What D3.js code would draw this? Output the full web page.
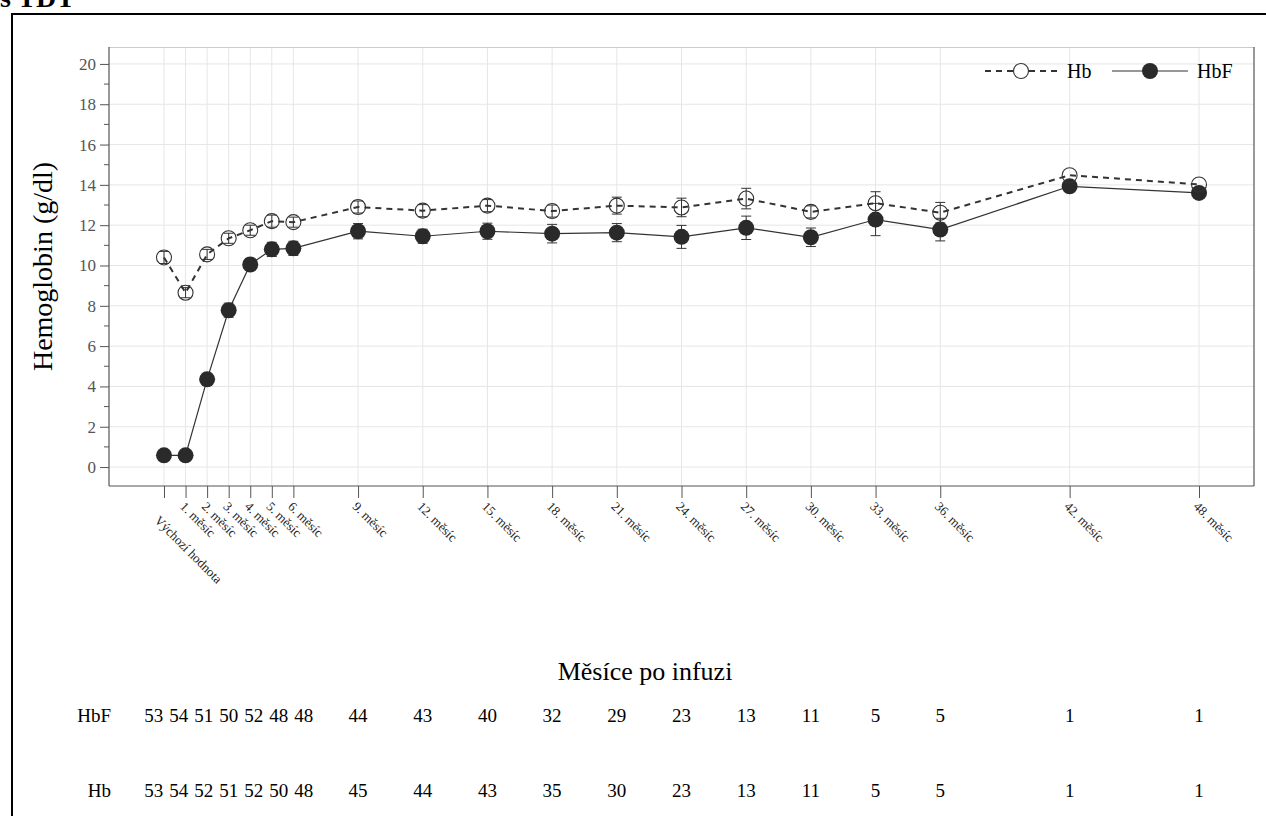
<!DOCTYPE html>
<html>
<head>
<meta charset="utf-8">
<script src="https://cdn.jsdelivr.net/npm/d3@7/dist/d3.min.js"></script>
<style>
  html, body { margin: 0; padding: 0; background: #fff; }
  svg { display: block; font-family: "Liberation Serif", "Times New Roman", serif; }
</style>
</head>
<body>
<svg id="chart" width="1266" height="816"></svg>
<script>
// ---- data ----
const months = [0, 1, 2, 3, 4, 5, 6, 9, 12, 15, 18, 21, 24, 27, 30, 33, 36, 42, 48];
const monthLabels = ["Výchozí hodnota", "1. měsíc", "2. měsíc", "3. měsíc", "4. měsíc", "5. měsíc", "6. měsíc",
  "9. měsíc", "12. měsíc", "15. měsíc", "18. měsíc", "21. měsíc", "24. měsíc", "27. měsíc", "30. měsíc",
  "33. měsíc", "36. měsíc", "42. měsíc", "48. měsíc"];
const hbMean  = [10.4, 8.65, 10.55, 11.35, 11.75, 12.2, 12.15, 12.9, 12.72, 12.97, 12.7, 12.97, 12.88, 13.32, 12.66, 13.09, 12.62, 14.48, 14.02];
const hbErr   = [0.3, 0.25, 0.25, 0.25, 0.25, 0.3, 0.25, 0.3, 0.3, 0.3, 0.3, 0.42, 0.46, 0.51, 0.3, 0.57, 0.51, 0, 0];
const hbfMean = [0.58, 0.58, 4.35, 7.78, 10.05, 10.8, 10.85, 11.7, 11.45, 11.7, 11.58, 11.63, 11.42, 11.87, 11.4, 12.28, 11.78, 13.93, 13.6];
const hbfErr  = [0.15, 0.15, 0.3, 0.35, 0.3, 0.35, 0.35, 0.38, 0.35, 0.4, 0.46, 0.45, 0.57, 0.58, 0.46, 0.8, 0.56, 0, 0];
const nHbF = [53, 54, 51, 50, 52, 48, 48, 44, 43, 40, 32, 29, 23, 13, 11, 5, 5, 1, 1];
const nHb  = [53, 54, 52, 51, 52, 50, 48, 45, 44, 43, 35, 30, 23, 13, 11, 5, 5, 1, 1];
const yTicks = [0, 2, 4, 6, 8, 10, 12, 14, 16, 18, 20];
const yMinorTicks = [1, 3, 5, 7, 9, 11, 13, 15, 17, 19];
const seriesNames = ["Hb", "HbF"];
const titleFragment = "s TDT";
const yTitle = "Hemoglobin (g/dl)";
const xTitle = "Měsíce po infuzi";

// ---- layout ----
const svg = d3.select("#chart");
const L = 109, R = 1254, T = 47, B = 486;
const x = d3.scaleLinear().domain([-2.55, 50.55]).range([L, R]);
const y = d3.scaleLinear().domain([-0.94, 20.84]).range([B, T]);
const ink = "#333";

// title fragment & outer frame
svg.append("text").attr("x", 0).attr("y", 7).attr("font-size", 28).attr("font-weight", "bold")
  .attr("fill", "#000").text(titleFragment);
svg.append("path").attr("d", `M12,816 L12,14 L1266,14`).attr("fill", "none")
  .attr("stroke", "#000").attr("stroke-width", 2);

// gridlines
const grid = svg.append("g");
grid.selectAll("line.h").data(yTicks).join("line")
  .attr("x1", L).attr("x2", R).attr("y1", d => y(d)).attr("y2", d => y(d))
  .attr("stroke", "#e6e6e6").attr("stroke-width", 1);
grid.selectAll("line.v").data(months).join("line")
  .attr("y1", T).attr("y2", B).attr("x1", d => x(d)).attr("x2", d => x(d))
  .attr("stroke", "#e6e6e6").attr("stroke-width", 1);

// frame of plot
svg.append("line").attr("x1", L).attr("x2", R).attr("y1", T + 0.5).attr("y2", T + 0.5).attr("stroke", "#ccc");
svg.append("line").attr("x1", R).attr("x2", R).attr("y1", T).attr("y2", B).attr("stroke", "#555").attr("stroke-width", 1.2);

// y axis
const yAxis = d3.axisLeft(y).tickValues(yTicks).tickSize(9).tickPadding(4).tickFormat(d3.format("d"));
const gy = svg.append("g").attr("transform", `translate(${L},0)`).call(yAxis)
  .attr("font-family", "Liberation Serif").attr("font-size", 17);
gy.select(".domain").attr("stroke", "#555").attr("stroke-width", 1.2).attr("d", `M0,${T}V${B}`);
gy.selectAll(".tick line").attr("stroke", "#555");
gy.selectAll(".tick text").attr("fill", "#555");
gy.selectAll("line.minor").data(yMinorTicks).join("line").attr("class", "minor")
  .attr("x1", -5).attr("x2", 0).attr("y1", d => y(d)).attr("y2", d => y(d)).attr("stroke", "#555");

// x axis
const xAxis = d3.axisBottom(x).tickValues(months).tickSize(12).tickFormat("");
const gx = svg.append("g").attr("transform", `translate(0,${B})`).call(xAxis);
gx.select(".domain").attr("stroke", "#555").attr("stroke-width", 1.2).attr("d", `M${L},0H${R}`);
gx.selectAll(".tick line").attr("stroke", "#555");
svg.append("g").selectAll("text").data(months).join("text")
  .attr("transform", (d, i) => `translate(${x(d) - 3 + (i === 0 ? -4 : 0)},${504 + (i === 0 ? 14 : 0)}) rotate(45)`)
  .attr("dy", "0.35em").attr("font-size", 13).attr("fill", "#222")
  .text((d, i) => monthLabels[i]);

// axis titles
svg.append("text").attr("transform", `translate(52,${(T + B) / 2}) rotate(-90)`)
  .attr("text-anchor", "middle").attr("font-size", 28).attr("fill", "#000").text(yTitle);
svg.append("text").attr("x", 645).attr("y", 680).attr("text-anchor", "middle")
  .attr("font-size", 26).attr("fill", "#000").text(xTitle);

// series
const hbData = months.map((m, i) => ({ m, v: hbMean[i], e: hbErr[i] }));
const hbfData = months.map((m, i) => ({ m, v: hbfMean[i], e: hbfErr[i] }));
const line = d3.line().x(d => x(d.m)).y(d => y(d.v));

svg.append("path").datum(hbData).attr("d", line).attr("fill", "none")
  .attr("stroke", ink).attr("stroke-width", 2).attr("stroke-dasharray", "6,5");
svg.append("path").datum(hbfData).attr("d", line).attr("fill", "none")
  .attr("stroke", ink).attr("stroke-width", 1.2);

function errorBars(data) {
  const g = svg.append("g").attr("stroke", ink).attr("stroke-width", 1);
  const d2 = data.filter(d => d.e > 0);
  g.selectAll("line.v").data(d2).join("line")
    .attr("x1", d => x(d.m)).attr("x2", d => x(d.m))
    .attr("y1", d => y(d.v - d.e)).attr("y2", d => y(d.v + d.e));
  g.selectAll("line.t").data(d2).join("line")
    .attr("x1", d => x(d.m) - 5).attr("x2", d => x(d.m) + 5)
    .attr("y1", d => y(d.v + d.e)).attr("y2", d => y(d.v + d.e));
  g.selectAll("line.b").data(d2).join("line")
    .attr("x1", d => x(d.m) - 5).attr("x2", d => x(d.m) + 5)
    .attr("y1", d => y(d.v - d.e)).attr("y2", d => y(d.v - d.e));
}
errorBars(hbfData);
svg.append("g").selectAll("circle").data(hbfData).join("circle")
  .attr("cx", d => x(d.m)).attr("cy", d => y(d.v)).attr("r", 8).attr("fill", "#2a2a2a");
errorBars(hbData);
svg.append("g").selectAll("circle").data(hbData).join("circle")
  .attr("cx", d => x(d.m)).attr("cy", d => y(d.v)).attr("r", 7.5).attr("fill", "none")
  .attr("stroke", ink).attr("stroke-width", 1.1);

// legend
const lg = svg.append("g");
const ly = 71;
lg.append("line").attr("x1", 985).attr("x2", 1058).attr("y1", ly).attr("y2", ly)
  .attr("stroke", ink).attr("stroke-width", 2).attr("stroke-dasharray", "6,5");
lg.append("circle").attr("cx", 1021).attr("cy", ly).attr("r", 7.5).attr("fill", "#fff").attr("stroke", ink).attr("stroke-width", 1.1);
lg.append("text").attr("x", 1067).attr("y", ly).attr("dy", "0.35em").attr("font-size", 20).text(seriesNames[0]);
lg.append("line").attr("x1", 1112).attr("x2", 1188).attr("y1", ly).attr("y2", ly)
  .attr("stroke", ink).attr("stroke-width", 1.2);
lg.append("circle").attr("cx", 1150).attr("cy", ly).attr("r", 8).attr("fill", "#2a2a2a");
lg.append("text").attr("x", 1197).attr("y", ly).attr("dy", "0.35em").attr("font-size", 20).text(seriesNames[1]);

// at-risk table (dense early columns are spread apart, as in the reference layout)
const denseCount = 7, denseGap = 25;
const denseCenter = x(months[3]);
const tableX = i => i < denseCount ? denseCenter + (i - 3) * denseGap : x(months[i]);
const rows = [{ name: seriesNames[1], vals: nHbF, yy: 715 }, { name: seriesNames[0], vals: nHb, yy: 790 }];
rows.forEach(r => {
  svg.append("text").attr("x", 111).attr("y", r.yy).attr("dy", "0.35em").attr("text-anchor", "end")
    .attr("font-size", 19).text(r.name);
  svg.append("g").selectAll("text").data(r.vals).join("text")
    .attr("x", (d, i) => tableX(i)).attr("y", r.yy).attr("dy", "0.35em")
    .attr("text-anchor", "middle").attr("font-size", 19).text(d => d);
});
</script>
</body>
</html>
